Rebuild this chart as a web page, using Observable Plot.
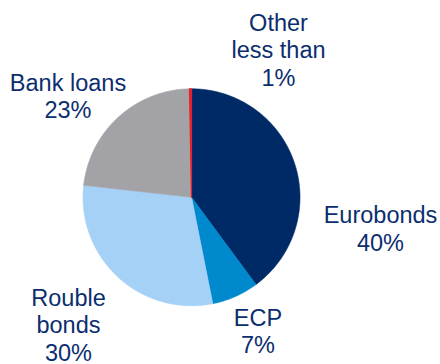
<!DOCTYPE html>
<html>
<head>
<meta charset="utf-8">
<script src="https://cdn.jsdelivr.net/npm/d3@7"></script>
<script src="https://cdn.jsdelivr.net/npm/@observablehq/plot@0.6"></script>
<style>
  html, body { margin: 0; padding: 0; background: #fff; }
  #chart svg { display: block; }
</style>
</head>
<body>
<div id="chart"></div>
<script>
// ---- data ----
const categories = ["Eurobonds", "ECP", "Rouble bonds", "Bank loans", "Other"];
const shares = [40, 7, 30, 23, 0.3];
const labelTexts = ["Eurobonds\n40%", "ECP\n7%", "Rouble\nbonds\n30%", "Bank loans\n23%", "Other\nless than\n1%"];
const colors = ["#002A66", "#0089CC", "#A6D1F7", "#A2A2A7", "#E8202A"];

// ---- layout (pixels) ----
const W = 440, H = 364;
const cx = 191, cy = 196.8, R = 108.5;
const labelAnchors = [[380, 203], [257.5, 305.5], [68, 285.5], [67.5, 70.5], [278, 10.5]];
const textColor = "#0B2E6E";

const pie = d3.pie().sort(null).value(d => d.value)(categories.map((c, i) => ({name: c, value: shares[i]})));

function slicePoints(a) {
  const pts = [{x: cx, y: cy}];
  const steps = Math.max(2, Math.ceil((a.endAngle - a.startAngle) / (Math.PI / 360)));
  for (let k = 0; k <= steps; k++) {
    const t = a.startAngle + (a.endAngle - a.startAngle) * k / steps;
    pts.push({x: cx + R * Math.sin(t), y: cy - R * Math.cos(t)});
  }
  pts.push({x: cx, y: cy});
  return pts;
}

const sliceMarks = pie.map((a, i) =>
  Plot.line(slicePoints(a), {x: "x", y: "y", fill: colors[i], stroke: colors[i], strokeWidth: i === 4 ? 1.2 : 0.6, curve: "linear"})
);

const labels = categories.map((c, i) => ({text: labelTexts[i], x: labelAnchors[i][0], y: labelAnchors[i][1]}));

const chart = Plot.plot({
  width: W, height: H,
  margin: 0,
  x: {domain: [0, W], range: [0, W], axis: null},
  y: {domain: [0, H], range: [0, H], axis: null},
  style: {background: "#fff", overflow: "visible"},
  marks: [
    ...sliceMarks,
    Plot.text(labels, {x: "x", y: "y", text: "text", textAnchor: "middle", lineAnchor: "top", lineHeight: 1.18,
      fontSize: 23.5, fill: textColor, fontFamily: "Liberation Sans, Arial, sans-serif"})
  ]
});
document.getElementById("chart").appendChild(chart);
</script>
</body>
</html>
